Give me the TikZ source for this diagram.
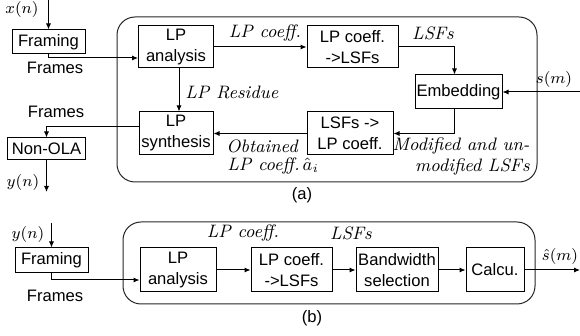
\documentclass[tikz,border=0pt]{standalone}
\usepackage{amsmath}
\usepackage{fontspec}
\setsansfont{Liberation Sans}
\usetikzlibrary{arrows.meta}

\tikzset{
  blk/.style={draw=black, line width=0.5pt, inner sep=0pt, align=center,
    font=\sffamily\fontsize{8.3}{10.5}\selectfont},
  txt/.style={inner sep=0pt, font=\sffamily\fontsize{8.3}{10.5}\selectfont},
  lbl/.style={inner sep=0pt, font=\itshape\fontsize{9}{10.5}\selectfont},
  sig/.style={inner sep=0pt, font=\fontsize{8.5}{10}\selectfont},
  arr/.style={line width=0.5pt, -{Latex[length=3pt,width=2.6pt]}},
  grp/.style={draw=black!85, line width=0.5pt, rounded corners=9pt},
}

\begin{document}
\begin{tikzpicture}[x=0.5pt, y=-0.5pt]
    \useasboundingbox (0,0) rectangle (580,336);

    % (a) embedding
    \draw[grp] (117,17) rectangle (537,182);

    \node[blk, minimum width=36.5pt, minimum height=12pt] (frmA) at (48.5,42) {Framing};
    \node[blk, minimum width=37.5pt, minimum height=21pt] (lpa) at (176,47) {LP\\analysis};
    \node[blk, minimum width=45.5pt, minimum height=21pt] (c2l) at (352.5,47) {LP coeff.\\->LSFs};
    \node[blk, minimum width=43.5pt, minimum height=17pt] (emb) at (458.5,92) {Embedding};
    \node[blk, minimum width=43pt, minimum height=21.5pt] (l2c) at (350,133.5) {LSFs ->\\LP coeff.};
    \node[blk, minimum width=37pt, minimum height=21.5pt] (lps) at (176,133.5) {LP\\synthesis};
    \node[blk, minimum width=38.5pt, minimum height=11pt] (ola) at (46.5,149) {Non-OLA};

    \coordinate (xin) at (48.5,0);
    \coordinate (sin) at (580,92);
    \coordinate (yout) at (46.5,192);

    \draw[arr] (xin) -- (frmA);
    \draw[arr] (frmA.south) |- ([yshift=-5.5pt]lpa.west);
    \draw[arr] (lpa) -- (c2l);
    \draw[arr] (c2l.east) -| ([xshift=-2pt]emb.north);
    \draw[arr] (sin) -- (emb);
    \draw[arr] ([xshift=-2pt]emb.south) |- (l2c.east);
    \draw[arr] (l2c) -- (lps);
    \draw[arr] ([xshift=1.5pt]lpa.south) -- ([xshift=1.5pt]lps.north);
    \draw[arr] ([yshift=3.25pt]lps.west) -| (ola.north);
    \draw[arr] (ola) -- (yout);

    \node[sig] (xlbl) at (22,10) {$x(n)$};
    \node[txt] (frmsA) at (55,68) {Frames};
    \node[lbl] (coefA) at (265,33) {LP coeff.};
    \node[lbl] (lsfA) at (433,33) {LSFs};
    \node[sig] (slbl) at (554,80) {$s(m)$};
    \node[lbl, anchor=west] (resA) at (185,92) {LP Residue};
    \node[lbl, anchor=east, align=right] (modA) at (530,157) {Modified and un-\\modified LSFs};
    \node[lbl, anchor=west] (obtA) at (226,146) {Obtained};
    \node[lbl, anchor=west] (obtB) at (227,166) {LP coeff.\,$\hat{a}_i$};
    \node[txt] (frmsS) at (56,112) {Frames};
    \node[sig] (ylbl) at (23,183) {$y(n)$};
    \node[txt] (capA) at (302,195) {(a)};

    % (b) extraction
    \draw[grp] (123,222) rectangle (535,304);

    \node[blk, minimum width=36.5pt, minimum height=12.5pt] (frmB) at (51.5,260.5) {Framing};
    \node[blk, minimum width=38pt, minimum height=22pt] (lpaB) at (178,270) {LP\\analysis};
    \node[blk, minimum width=40.5pt, minimum height=22pt] (c2lB) at (291.5,270) {LP coeff.\\->LSFs};
    \node[blk, minimum width=41pt, minimum height=22pt] (bws) at (397,270) {Bandwidth\\selection};
    \node[blk, minimum width=29pt, minimum height=22pt] (calc) at (495,270) {Calcu.};

    \coordinate (yin) at (51.5,223);
    \coordinate (sout) at (580,270);

    \draw[arr] (yin) -- (frmB);
    \draw[arr] (frmB.south) |- ([yshift=-5pt]lpaB.west);
    \draw[arr] (lpaB) -- (c2lB);
    \draw[arr] (c2lB) -- (bws);
    \draw[arr] (bws) -- (calc);
    \draw[arr] (calc) -- (sout);

    \node[sig] (ylblB) at (28,235) {$y(n)$};
    \node[txt] (frmsB) at (55,296) {Frames};
    \node[lbl] (coefB) at (243,233) {LP coeff.};
    \node[lbl] (lsfB) at (351,233) {LSFs};
    \node[sig] (shat) at (560,257) {$\hat{s}(m)$};
    \node[txt] (capB) at (312,318) {(b)};
\end{tikzpicture}
\end{document}
